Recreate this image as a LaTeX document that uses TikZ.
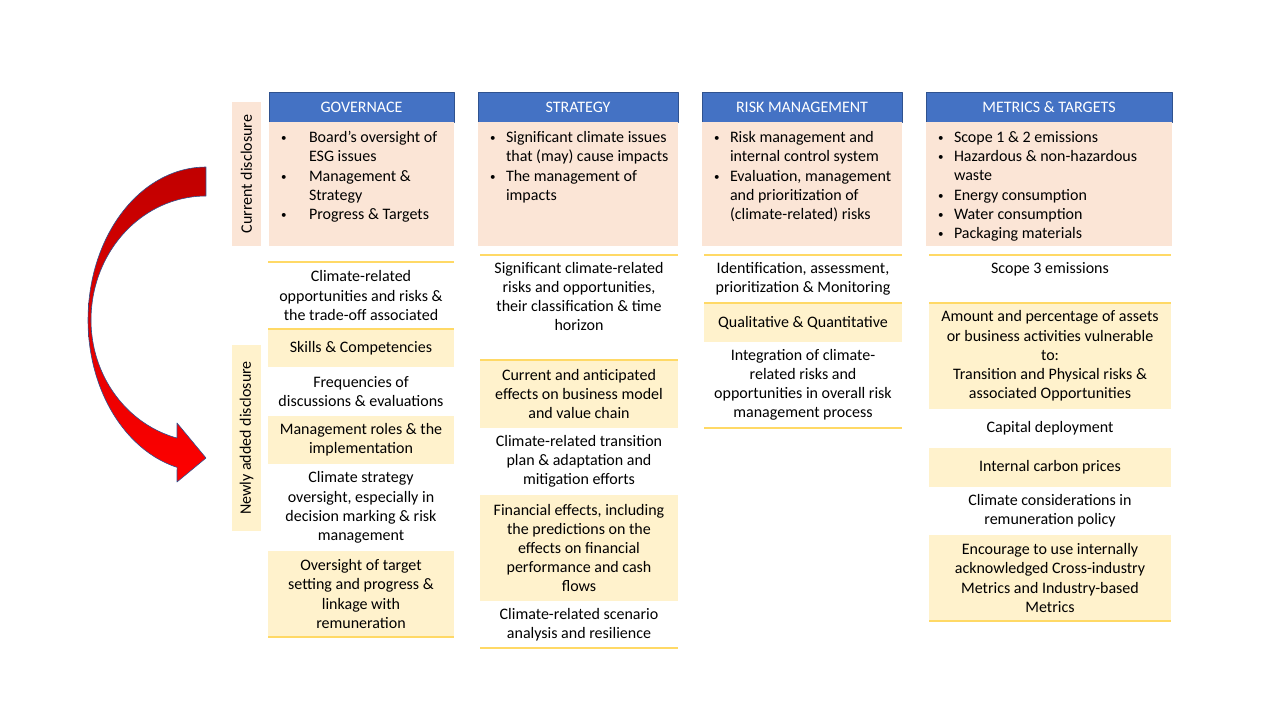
\documentclass[tikz,border=0pt]{standalone}
\usepackage{fontspec}
\setmainfont{Carlito}
\usetikzlibrary{positioning}

\definecolor{hdrblue}{HTML}{4472C4}
\definecolor{hdrline}{HTML}{2F528F}
\definecolor{peach}{HTML}{FBE5D6}
\definecolor{paleyellow}{HTML}{FFF2CC}
\definecolor{goldline}{HTML}{FFD966}
\definecolor{darkred}{HTML}{C00000}

% bullet and continuation indent for the lists
\newcommand{\bitem}[1][16pt]{\makebox[#1][l]{\raisebox{1pt}{\fontsize{11}{11}\selectfont\textbullet}}}
\newcommand{\bcont}[1][16pt]{\hspace*{#1}}

\tikzset{
  txt/.style={font=\fontsize{16}{19.2}\selectfont, inner sep=0pt, outer sep=0pt, align=center},
  hdr/.style={txt, fill=hdrblue, draw=hdrline, line width=1pt, text=white, minimum height=30},
  curbox/.style={txt, fill=peach, minimum height=124},
  blist/.style={txt, align=left, anchor=north west},
  cellW/.style={txt, fill=white},
  cellY/.style={txt, fill=paleyellow},
  goldrule/.style={draw=goldline, line width=1.5pt},
  gcol/.style={minimum width=186},
  scol/.style={minimum width=198},
  rcol/.style={minimum width=198},
  mcol/.style={minimum width=242},
}

\begin{document}
\begin{tikzpicture}[x=1pt, y=-1pt, line join=round]
\useasboundingbox (0,0) rectangle (1280,720);

% curved arrow
\shade[top color=darkred, bottom color=red, draw=hdrline, line width=0.6pt]
  plot[domain=90:180, samples=40] ({206+118*cos(\x)}, {320-153*sin(\x)})
  -- plot[domain=180:255.8, samples=40] ({206+118*cos(\x)}, {320-152*sin(\x)})
  -- (177,482) -- (206,458) -- (177,423)
  -- plot[domain=255.4:180, samples=40] ({206+115*cos(\x)}, {320-122*sin(\x)})
  -- plot[domain=180:90, samples=40] ({206+115*cos(\x)}, {320-124*sin(\x)})
  -- cycle;

% side labels
\node[txt, fill=peach, rotate=90, minimum width=144, minimum height=29] (lcur) at (246.5,174) {Current disclosure};
\node[txt, fill=paleyellow, rotate=90, minimum width=186, minimum height=29] (lnew) at (246.5,438) {Newly added disclosure};

% headers
\node[hdr, minimum width=185] (hgov) at (361.5,107) {GOVERNACE};
\node[hdr, minimum width=200] (hstr) at (578,107) {STRATEGY};
\node[hdr, minimum width=200] (hrisk) at (802,107) {RISK MANAGEMENT};
\node[hdr, minimum width=246] (hmet) at (1049,107) {METRICS \& TARGETS};

% current disclosure
\node[curbox, minimum width=185, below=0pt of hgov] (cgov) {};
\node[curbox, minimum width=200, below=0pt of hstr] (cstr) {};
\node[curbox, minimum width=200, below=0pt of hrisk] (crisk) {};
\node[curbox, minimum width=246, below=0pt of hmet] (cmet) {};

\node[blist, below right=9.5pt and 12pt of cgov.north west] (lgov) {%
\bitem[28pt]Board’s oversight of\\
\bcont[28pt]ESG issues\\
\bitem[28pt]Management \&\\
\bcont[28pt]Strategy\\
\bitem[28pt]Progress \& Targets};
\node[blist, below right=9.5pt and 12pt of cstr.north west] (lstr) {%
\bitem Significant climate issues\\
\bcont that (may) cause impacts\\
\bitem The management of\\
\bcont impacts};
\node[blist, below right=9.5pt and 12pt of crisk.north west] (lrisk) {%
\bitem Risk management and\\
\bcont internal control system\\
\bitem Evaluation, management\\
\bcont and prioritization of\\
\bcont (climate-related) risks};
\node[blist, below right=9.5pt and 12pt of cmet.north west] (lmet) {%
\bitem Scope 1 \& 2 emissions\\
\bitem Hazardous \& non-hazardous\\
\bcont waste\\
\bitem Energy consumption\\
\bitem Water consumption\\
\bitem Packaging materials};

% newly added: governance
\node[cellW, gcol, minimum height=67] (g1) at (361,295.5) {Climate-related\\opportunities and risks \&\\the trade-off associated};
\node[cellY, gcol, minimum height=38, below=0pt of g1] (g2) {Skills \& Competencies};
\node[cellW, gcol, minimum height=49, below=0pt of g2] (g3) {Frequencies of\\discussions \& evaluations};
\node[cellY, gcol, minimum height=48, below=0pt of g3] (g4) {Management roles \& the\\implementation};
\node[cellW, gcol, minimum height=87, below=0pt of g4] (g5) {Climate strategy\\oversight, especially in\\decision marking \& risk\\management};
\node[cellY, gcol, minimum height=86, below=0pt of g5] (g6) {Oversight of target\\setting and progress \&\\linkage with\\remuneration};

% newly added: strategy
\node[cellW, scol, minimum height=105] (s1) at (579,307.5) {Significant climate-related\\risks and opportunities,\\their classification \& time\\horizon\\\vphantom{g}};
\node[cellY, scol, minimum height=68, below=0pt of s1] (s2) {Current and anticipated\\effects on business model\\and value chain};
\node[cellW, scol, minimum height=67, below=0pt of s2] (s3) {Climate-related transition\\plan \& adaptation and\\mitigation efforts};
\node[cellY, scol, minimum height=106, below=0pt of s3] (s4) {Financial effects, including\\the predictions on the\\effects on financial\\performance and cash\\flows};
\node[cellW, scol, minimum height=47, below=0pt of s4] (s5) {Climate-related scenario\\analysis and resilience};

% newly added: risk management
\node[cellW, rcol, minimum height=48] (r1) at (803,279) {Identification, assessment,\\prioritization \& Monitoring};
\node[cellY, rcol, minimum height=39, below=0pt of r1] (r2) {Qualitative \& Quantitative};
\node[cellW, rcol, minimum height=86, below=0pt of r2] (r3) {Integration of climate-\\related risks and\\opportunities in overall risk\\management process};

% newly added: metrics & targets
\node[cellW, mcol, minimum height=48] (m1) at (1050,279) {Scope 3 emissions\\\vphantom{g}};
\node[cellY, mcol, minimum height=106, below=0pt of m1] (m2) {Amount and percentage of assets\\or business activities vulnerable\\to:\\Transition and Physical risks \&\\associated Opportunities};
\node[cellW, mcol, minimum height=39, below=0pt of m2] (m3) {Capital deployment};
\node[cellY, mcol, minimum height=39, below=0pt of m3] (m4) {Internal carbon prices};
\node[cellW, mcol, minimum height=48, below=0pt of m4] (m5) {Climate considerations in\\remuneration policy};
\node[cellY, mcol, minimum height=86, below=0pt of m5] (m6) {Encourage to use internally\\acknowledged Cross-industry\\Metrics and Industry-based\\Metrics};

% gold rules
\draw[goldrule] (g1.north west) -- (g1.north east) (g1.south west) -- (g1.south east) (g6.south west) -- (g6.south east);
\draw[goldrule] (s1.north west) -- (s1.north east) (s1.south west) -- (s1.south east) (s5.south west) -- (s5.south east);
\draw[goldrule] (r1.north west) -- (r1.north east) (r1.south west) -- (r1.south east) (r3.south west) -- (r3.south east);
\draw[goldrule] (m1.north west) -- (m1.north east) (m1.south west) -- (m1.south east) (m6.south west) -- (m6.south east);
\end{tikzpicture}
\end{document}
